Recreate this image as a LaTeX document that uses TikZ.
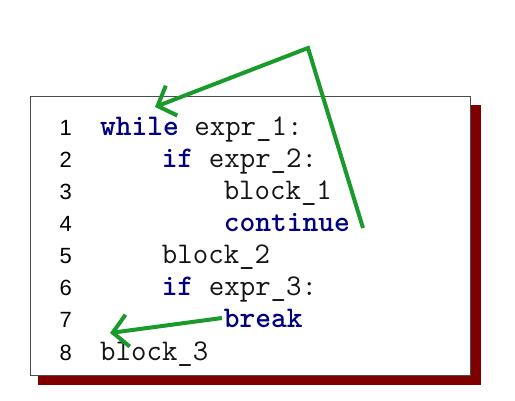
\documentclass[tikz,border=0pt]{standalone}
\usepackage{fontspec}
\setmainfont{Liberation Sans}
\usetikzlibrary{arrows.meta}
\definecolor{shadowred}{RGB}{128,0,0}
\definecolor{kwblue}{RGB}{0,0,128}
\definecolor{arrowgreen}{RGB}{26,154,42}
\definecolor{codegray}{RGB}{20,20,20}
\begin{document}
\begin{tikzpicture}[x=1pt,y=-1pt,
  codeline/.style={anchor=base west,inner sep=0pt,font=\fontsize{30}{34}\ttfamily,text=codegray},
  lineno/.style={anchor=base east,inner sep=0pt,font=\fontsize{22}{26}\rmfamily},
  jump/.style={draw=arrowgreen,line width=4pt,line join=miter,
    -{Straight Barb[length=15pt,width=32pt,line width=4pt]}},
]
\useasboundingbox (0,0) rectangle (515,401);
% shadow and box
\fill[shadowred] (38,105) rectangle (481,385);
\draw[fill=white,draw=black!70,line width=1pt] (30,97) rectangle (470,376);
% line numbers
\foreach \i in {1,...,8}{
  \node[lineno] (n\i) at (72,{136+32*(\i-1)}) {\i};
}
\newcommand{\kwd}[1]{\textcolor{kwblue}{\textbf{#1}}}
\node[codeline] (l1) at (100,136) {\kwd{while} expr\_1:};
\node[codeline] (l2) at (100,168) {\phantom{xxxx}\kwd{if} expr\_2:};
\node[codeline] (l3) at (100,200) {\phantom{xxxxxxxx}block\_1};
\node[codeline] (l4) at (100,232) {\phantom{xxxxxxxx}\kwd{continue}};
\node[codeline] (l5) at (100,264) {\phantom{xxxx}block\_2};
\node[codeline] (l6) at (100,296) {\phantom{xxxx}\kwd{if} expr\_3:};
\node[codeline] (l7) at (100,328) {\phantom{xxxxxxxx}\kwd{break}};
\node[codeline] (l8) at (100,360) {block\_3};
% arrow endpoints
\coordinate (cstart) at (363,228);
\coordinate (cbend) at (308,48);
\coordinate (cend) at (155,107);
\coordinate (bstart) at (222,318);
\coordinate (bend) at (110,333);
\draw[jump] (cstart) -- (cbend) -- (cend);
\draw[jump] (bstart) -- (bend);
\end{tikzpicture}
\end{document}
